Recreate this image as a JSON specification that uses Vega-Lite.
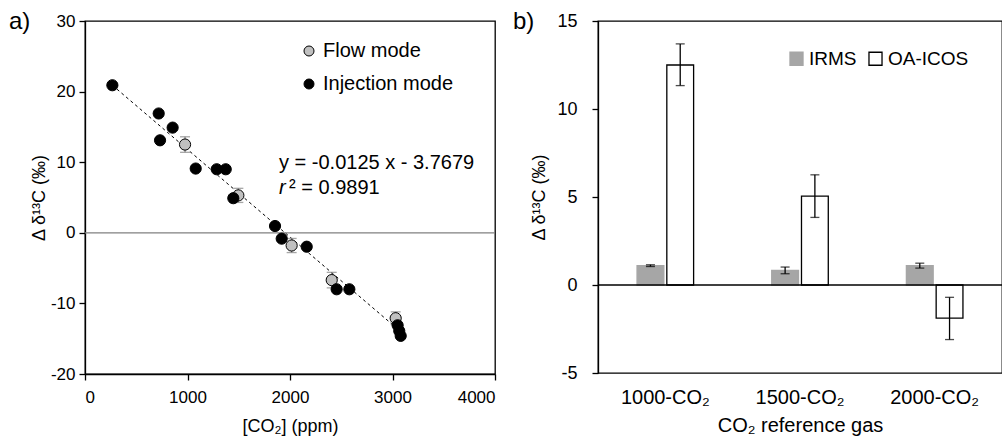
{
  "$schema": "https://vega.github.io/schema/vega-lite/v6.json",
  "padding": {"left": 8, "top": 9, "right": 0, "bottom": 0},
  "spacing": 13,
  "resolve": {"scale": {"fill": "independent", "stroke": "independent"}, "legend": {"fill": "independent", "stroke": "independent"}},
  "config": {
    "font": "Liberation Sans",
    "view": {"stroke": "#000", "strokeWidth": 1.3},
    "axis": {"domainColor": "#000", "domainWidth": 1.3, "tickColor": "#000", "tickWidth": 1.3, "tickSize": 6, "labelColor": "#000", "titleColor": "#000", "labelFont": "Liberation Sans", "titleFont": "Liberation Sans", "labelFontSize": 17, "titleFontSize": 18, "titleFontWeight": "normal", "grid": false, "labelPadding": 4},
    "legend": {"labelFont": "Liberation Sans", "labelColor": "#000"},
    "title": {"fontSize": 24, "fontWeight": "normal", "anchor": "start", "font": "Liberation Sans", "color": "#000", "frame": "group"}
  },
  "datasets": {
    "pts": [
      {"x": 976, "y": 12.5, "lo": 11.4, "hi": 13.6, "mode": "Flow mode"},
      {"x": 1496, "y": 5.3, "lo": 4.3, "hi": 6.3, "mode": "Flow mode"},
      {"x": 2016, "y": -1.8, "lo": -2.8, "hi": -0.8, "mode": "Flow mode"},
      {"x": 2407, "y": -6.7, "lo": -7.8, "hi": -5.6, "mode": "Flow mode"},
      {"x": 3031, "y": -12.1, "lo": -13.0, "hi": -11.2, "mode": "Flow mode"},
      {"x": 267, "y": 20.9, "mode": "Injection mode"},
      {"x": 719, "y": 16.9, "mode": "Injection mode"},
      {"x": 732, "y": 13.1, "mode": "Injection mode"},
      {"x": 855, "y": 14.9, "mode": "Injection mode"},
      {"x": 1080, "y": 9.1, "mode": "Injection mode"},
      {"x": 1285, "y": 9.0, "mode": "Injection mode"},
      {"x": 1373, "y": 9.0, "mode": "Injection mode"},
      {"x": 1447, "y": 4.9, "mode": "Injection mode"},
      {"x": 1854, "y": 0.96, "mode": "Injection mode"},
      {"x": 1919, "y": -0.83, "mode": "Injection mode"},
      {"x": 2163, "y": -1.97, "mode": "Injection mode"},
      {"x": 2455, "y": -8.0, "mode": "Injection mode"},
      {"x": 2579, "y": -8.0, "mode": "Injection mode"},
      {"x": 3050, "y": -13.1, "mode": "Injection mode"},
      {"x": 3066, "y": -13.9, "mode": "Injection mode"},
      {"x": 3080, "y": -14.6, "mode": "Injection mode"}
    ],
    "fit": [{"x": 267, "y": 20.9}, {"x": 3080, "y": -14.0}],
    "zero": [{"x": 0, "y": 0}, {"x": 4000, "y": 0}],
    "bars": [
      {"gas": "1000-CO₂", "series": "IRMS", "value": 1.1, "lo": 1.05, "hi": 1.15},
      {"gas": "1000-CO₂", "series": "OA-ICOS", "value": 12.5, "lo": 11.33, "hi": 13.7},
      {"gas": "1500-CO₂", "series": "IRMS", "value": 0.83, "lo": 0.64, "hi": 1.02},
      {"gas": "1500-CO₂", "series": "OA-ICOS", "value": 5.05, "lo": 3.84, "hi": 6.26},
      {"gas": "2000-CO₂", "series": "IRMS", "value": 1.1, "lo": 0.96, "hi": 1.24},
      {"gas": "2000-CO₂", "series": "OA-ICOS", "value": -1.88, "lo": -3.1, "hi": -0.7}
    ]
  },
  "hconcat": [
    {
      "width": 410,
      "height": 353,
      "title": {"text": "a)", "dx": -76, "dy": 26},
      "layer": [
        {
          "data": {"name": "zero"},
          "mark": {"type": "line", "color": "#808080", "strokeWidth": 1.3},
          "encoding": {
            "x": {"field": "x", "type": "quantitative", "scale": {"domain": [0, 4000], "nice": false}, "axis": {"title": "[CO₂] (ppm)", "values": [0, 1000, 2000, 3000, 4000], "labelExpr": "'' + datum.value", "labelPadding": 9, "titlePadding": 12}},
            "y": {"field": "y", "type": "quantitative", "scale": {"domain": [-20, 30], "nice": false}, "axis": {"title": "Δ δ¹³C (‰)", "values": [-20, -15, -10, -5, 0, 5, 10, 15, 20, 25, 30], "labelExpr": "datum.value % 10 === 0 ? '' + datum.value : ''", "titlePadding": 2}}
          }
        },
        {
          "data": {"name": "fit"},
          "mark": {"type": "line", "color": "#000", "strokeWidth": 1, "strokeDash": [3, 3]},
          "encoding": {
            "x": {"field": "x", "type": "quantitative", "axis": {"title": "[CO₂] (ppm)"}},
            "y": {"field": "y", "type": "quantitative", "axis": {"title": "Δ δ¹³C (‰)"}}
          }
        },
        {
          "data": {"name": "pts"},
          "transform": [{"filter": "datum.mode === 'Flow mode'"}],
          "mark": {"type": "rule", "color": "#808080", "strokeWidth": 1.3},
          "encoding": {
            "x": {"field": "x", "type": "quantitative", "axis": {"title": "[CO₂] (ppm)"}},
            "y": {"field": "lo", "type": "quantitative", "axis": {"title": "Δ δ¹³C (‰)"}},
            "y2": {"field": "hi"}
          }
        },
        {
          "data": {"name": "pts"},
          "transform": [{"filter": "datum.mode === 'Flow mode'"}],
          "mark": {"type": "tick", "orient": "horizontal", "color": "#808080", "size": 10, "thickness": 1.3},
          "encoding": {
            "x": {"field": "x", "type": "quantitative", "axis": {"title": "[CO₂] (ppm)"}},
            "y": {"field": "lo", "type": "quantitative", "axis": {"title": "Δ δ¹³C (‰)"}}
          }
        },
        {
          "data": {"name": "pts"},
          "transform": [{"filter": "datum.mode === 'Flow mode'"}],
          "mark": {"type": "tick", "orient": "horizontal", "color": "#808080", "size": 10, "thickness": 1.3},
          "encoding": {
            "x": {"field": "x", "type": "quantitative", "axis": {"title": "[CO₂] (ppm)"}},
            "y": {"field": "hi", "type": "quantitative", "axis": {"title": "Δ δ¹³C (‰)"}}
          }
        },
        {
          "data": {"name": "pts"},
          "mark": {"type": "circle", "size": 125, "stroke": "#000", "strokeWidth": 1, "opacity": 1},
          "encoding": {
            "x": {"field": "x", "type": "quantitative", "axis": {"title": "[CO₂] (ppm)"}},
            "y": {"field": "y", "type": "quantitative", "axis": {"title": "Δ δ¹³C (‰)"}},
            "fill": {"field": "mode", "type": "nominal", "scale": {"domain": ["Flow mode", "Injection mode"], "range": ["#c0c0c0", "#000000"]},
              "legend": {"title": null, "orient": "none", "legendX": 214, "legendY": 20, "labelFontSize": 20, "symbolSize": 100, "symbolType": "circle", "symbolStrokeColor": "#000", "symbolStrokeWidth": 1, "symbolOpacity": 1, "rowPadding": 13, "labelOffset": 4}}
          }
        },
        {
          "data": {"values": [{"x": 1893, "y": 9.9, "t": "y = -0.0125 x - 3.7679"}]},
          "mark": {"type": "text", "align": "left", "baseline": "middle", "fontSize": 20, "color": "#000"},
          "encoding": {
            "x": {"field": "x", "type": "quantitative", "axis": {"title": "[CO₂] (ppm)"}},
            "y": {"field": "y", "type": "quantitative", "axis": {"title": "Δ δ¹³C (‰)"}},
            "text": {"field": "t"}
          }
        },
        {
          "data": {"values": [{"x": 1893, "y": 6.4, "t": "r"}]},
          "mark": {"type": "text", "align": "left", "baseline": "middle", "fontSize": 20, "fontStyle": "italic", "color": "#000"},
          "encoding": {
            "x": {"field": "x", "type": "quantitative", "axis": {"title": "[CO₂] (ppm)"}},
            "y": {"field": "y", "type": "quantitative", "axis": {"title": "Δ δ¹³C (‰)"}},
            "text": {"field": "t"}
          }
        },
        {
          "data": {"values": [{"x": 1893, "y": 6.4, "t": "² = 0.9891"}]},
          "mark": {"type": "text", "align": "left", "baseline": "middle", "fontSize": 20, "dx": 10, "color": "#000"},
          "encoding": {
            "x": {"field": "x", "type": "quantitative", "axis": {"title": "[CO₂] (ppm)"}},
            "y": {"field": "y", "type": "quantitative", "axis": {"title": "Δ δ¹³C (‰)"}},
            "text": {"field": "t"}
          }
        }
      ]
    },
    {
      "width": 404,
      "height": 352,
      "title": {"text": "b)", "dx": -85, "dy": 26},
      "data": {"name": "bars"},
      "layer": [
        {
          "mark": {"type": "bar", "strokeWidth": 1.3},
          "encoding": {
            "x": {"field": "gas", "type": "nominal", "sort": null, "scale": {"paddingInner": 0.58, "paddingOuter": 0.29}, "axis": {"title": "CO₂ reference gas", "labelAngle": 0, "ticks": false, "domain": false, "labelPadding": 14, "titlePadding": 8, "labelFontSize": 20, "titleFontSize": 20}},
            "xOffset": {"field": "series", "type": "nominal", "scale": {"domain": ["IRMS", "OA-ICOS"], "paddingInner": 0.1}},
            "y": {"field": "value", "type": "quantitative", "scale": {"domain": [-5, 15], "nice": false}, "axis": {"title": "Δ δ¹³C (‰)", "values": [-5, 0, 5, 10, 15], "labelExpr": "'' + datum.value", "labelFontSize": 18, "labelPadding": 15, "titlePadding": 8}},
            "fill": {"field": "series", "type": "nominal", "scale": {"domain": ["IRMS", "OA-ICOS"], "range": ["#a6a6a6", "#ffffff"]},
              "legend": {"title": null, "orient": "none", "direction": "horizontal", "legendX": 189, "legendY": 28, "labelFontSize": 19, "symbolSize": 170, "symbolType": "square", "columnPadding": 9, "labelOffset": 3, "symbolStrokeWidth": 1.3}},
            "stroke": {"field": "series", "type": "nominal", "scale": {"domain": ["IRMS", "OA-ICOS"], "range": ["#a6a6a6", "#000000"]},
              "legend": {"title": null, "orient": "none", "direction": "horizontal", "legendX": 189, "legendY": 28, "labelFontSize": 19, "symbolSize": 170, "symbolType": "square", "columnPadding": 9, "labelOffset": 3, "symbolStrokeWidth": 1.3}}
          }
        },
        {
          "mark": {"type": "rule", "color": "#000", "strokeWidth": 1.3},
          "encoding": {
            "x": {"field": "gas", "type": "nominal", "sort": null},
            "xOffset": {"field": "series", "type": "nominal"},
            "y": {"field": "lo", "type": "quantitative", "axis": {"title": "Δ δ¹³C (‰)"}},
            "y2": {"field": "hi"}
          }
        },
        {
          "mark": {"type": "tick", "orient": "horizontal", "color": "#000", "size": 9, "thickness": 1.3},
          "encoding": {
            "x": {"field": "gas", "type": "nominal", "sort": null},
            "xOffset": {"field": "series", "type": "nominal"},
            "y": {"field": "lo", "type": "quantitative", "axis": {"title": "Δ δ¹³C (‰)"}}
          }
        },
        {
          "mark": {"type": "tick", "orient": "horizontal", "color": "#000", "size": 9, "thickness": 1.3},
          "encoding": {
            "x": {"field": "gas", "type": "nominal", "sort": null},
            "xOffset": {"field": "series", "type": "nominal"},
            "y": {"field": "hi", "type": "quantitative", "axis": {"title": "Δ δ¹³C (‰)"}}
          }
        },
        {
          "data": {"values": [{"value": 0}]},
          "mark": {"type": "rule", "color": "#000", "strokeWidth": 1.3},
          "encoding": {
            "y": {"field": "value", "type": "quantitative", "axis": {"title": "Δ δ¹³C (‰)"}}
          }
        }
      ]
    }
  ]
}
